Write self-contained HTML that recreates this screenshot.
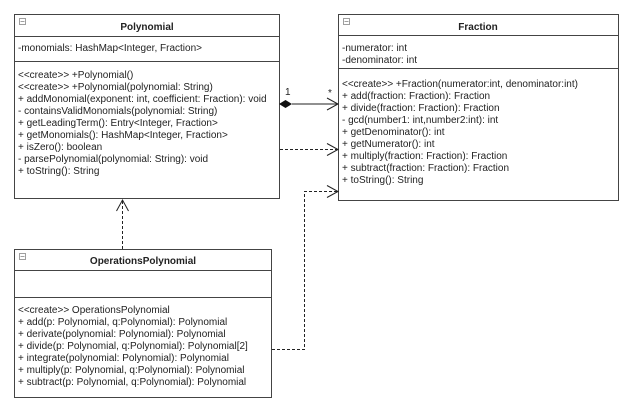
<!DOCTYPE html>
<html><head><style>
body{margin:0;background:#fff;}
svg text{font-family:"Liberation Sans",Arial,sans-serif;font-size:10px;fill:#222;}
</style></head><body>
<svg width="626" height="411" viewBox="0 0 626 411" xmlns="http://www.w3.org/2000/svg">
<g stroke="#444" stroke-width="1" fill="#fff">
<rect x="14.5" y="14.5" width="265" height="184"/>
<line x1="14.5" y1="36.5" x2="279.5" y2="36.5"/>
<line x1="14.5" y1="61.5" x2="279.5" y2="61.5"/>
<rect x="338.5" y="14.5" width="280" height="186"/>
<line x1="338.5" y1="35.5" x2="618.5" y2="35.5"/>
<line x1="338.5" y1="68.5" x2="618.5" y2="68.5"/>
<rect x="14.5" y="249.5" width="257" height="148"/>
<line x1="14.5" y1="270.5" x2="271.5" y2="270.5"/>
<line x1="14.5" y1="297.5" x2="271.5" y2="297.5"/>
</g>
<g fill="#fff" stroke="#888" stroke-width="0.8">
<rect x="19.5" y="18.5" width="6" height="6"/><line x1="20.5" y1="21.5" x2="24.5" y2="21.5"/>
<rect x="343.5" y="18.5" width="6" height="6"/><line x1="344.5" y1="21.5" x2="348.5" y2="21.5"/>
<rect x="19.5" y="253.5" width="6" height="6"/><line x1="20.5" y1="256.5" x2="24.5" y2="256.5"/>
</g>
<g font-weight="bold" text-anchor="middle">
<text x="147" y="30" font-weight="bold">Polynomial</text>
<text x="478" y="30" font-weight="bold">Fraction</text>
<text x="143" y="264" font-weight="bold">OperationsPolynomial</text>
</g>
<text x="18" y="51">-monomials: HashMap&lt;Integer, Fraction&gt;</text>
<text x="18" y="78">&lt;&lt;create&gt;&gt; +Polynomial()</text>
<text x="18" y="90">&lt;&lt;create&gt;&gt; +Polynomial(polynomial: String)</text>
<text x="18" y="102">+ addMonomial(exponent: int, coefficient: Fraction): void</text>
<text x="18" y="114">- containsValidMonomials(polynomial: String)</text>
<text x="18" y="126">+ getLeadingTerm(): Entry&lt;Integer, Fraction&gt;</text>
<text x="18" y="138">+ getMonomials(): HashMap&lt;Integer, Fraction&gt;</text>
<text x="18" y="150">+ isZero(): boolean</text>
<text x="18" y="162">- parsePolynomial(polynomial: String): void</text>
<text x="18" y="174">+ toString(): String</text>

<text x="342" y="51">-numerator: int</text>
<text x="342" y="63">-denominator: int</text>
<text x="342" y="87">&lt;&lt;create&gt;&gt; +Fraction(numerator:int, denominator:int)</text>
<text x="342" y="99">+ add(fraction: Fraction): Fraction</text>
<text x="342" y="111">+ divide(fraction: Fraction): Fraction</text>
<text x="342" y="123">-  gcd(number1: int,number2:int): int</text>
<text x="342" y="135">+ getDenominator(): int</text>
<text x="342" y="147">+ getNumerator(): int</text>
<text x="342" y="159">+ multiply(fraction: Fraction): Fraction</text>
<text x="342" y="171">+ subtract(fraction: Fraction): Fraction</text>
<text x="342" y="183">+ toString(): String</text>

<text x="18" y="313">&lt;&lt;create&gt;&gt; OperationsPolynomial</text>
<text x="18" y="325">+ add(p: Polynomial, q:Polynomial): Polynomial</text>
<text x="18" y="337">+ derivate(polynomial: Polynomial): Polynomial</text>
<text x="18" y="349">+ divide(p: Polynomial, q:Polynomial): Polynomial[2]</text>
<text x="18" y="361">+ integrate(polynomial: Polynomial): Polynomial</text>
<text x="18" y="373">+ multiply(p: Polynomial, q:Polynomial): Polynomial</text>
<text x="18" y="385">+ subtract(p: Polynomial, q:Polynomial): Polynomial</text>

<g stroke="#222" fill="none" stroke-width="1">
<line x1="292" y1="104" x2="338" y2="104"/>
<polyline points="327,98 338,104 327,110"/>
<line x1="280" y1="149.5" x2="338" y2="149.5" stroke-dasharray="3,2"/>
<polyline points="327,143.5 338,149.5 327,155.5"/>
<polyline points="272,349.5 304.5,349.5 304.5,191.5 338,191.5" stroke-dasharray="3,2"/>
<polyline points="327,185.5 338,191.5 327,197.5"/>
<line x1="122.5" y1="249" x2="122.5" y2="200" stroke-dasharray="3,2"/>
<polyline points="116.5,211 122.5,200 128.5,211"/>
</g>
<polygon points="279,104 285.5,100 292,104 285.5,108" fill="#111"/>
<text x="285" y="95" font-size="9">1</text>
<text x="328" y="96" font-size="10">*</text>
</svg>
</body></html>
